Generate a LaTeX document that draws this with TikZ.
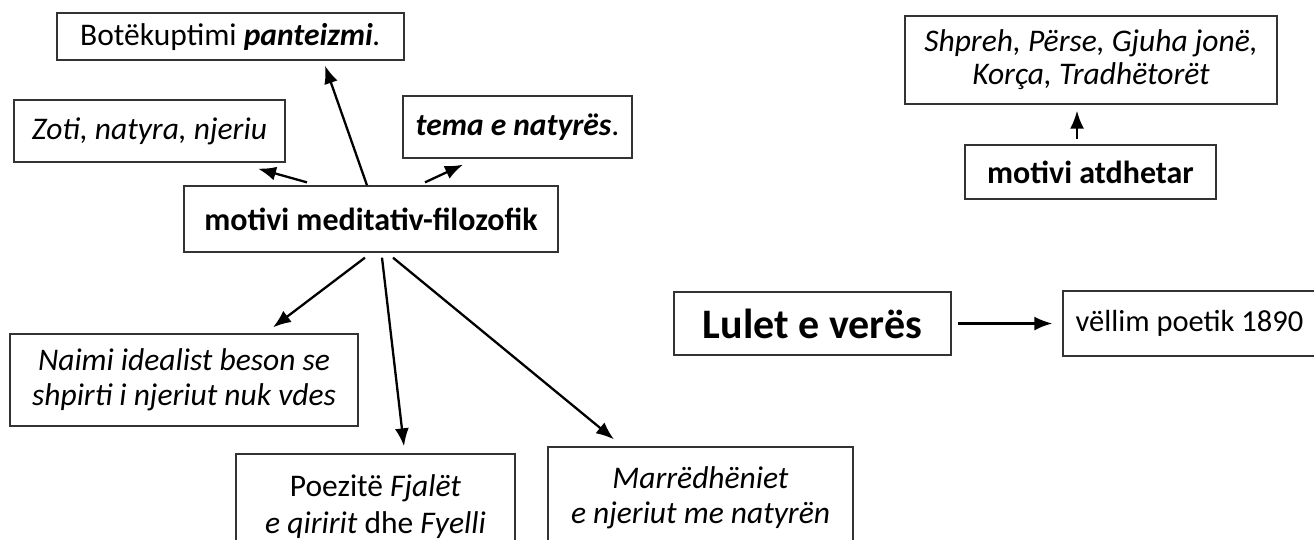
\documentclass[tikz,border=0pt]{standalone}
\usepackage{fontspec}
\setmainfont{Carlito}
\usetikzlibrary{arrows.meta}

\tikzset{
	box/.style={draw=black!80,line width=1.3pt,rectangle,inner sep=0pt,align=center,font=\fontsize{31.5}{35}\selectfont},
	link/.style={line width=2.3pt,-{Latex[length=18pt,width=14pt]}}
}

\begin{document}
\begin{tikzpicture}[x=1pt,y=-1pt]
	  \clip (0,0) rectangle (1314,539);
	  \fill[white] (0,0) rectangle (1314,539);

	  \node[box,minimum width=347pt,minimum height=47pt] (bote) at (230.5,36.5) {Botëkuptimi \textbf{\textit{panteizmi}}\textit{.}};
	  \node[box,minimum width=271pt,minimum height=62pt] (zoti) at (149.5,131) {\textit{Zoti, natyra, njeriu}};
	  \node[box,minimum width=229pt,minimum height=62pt] (tema) at (517.5,127) {\textbf{\textit{tema e natyrës}}.};
	  \node[box,minimum width=374pt,minimum height=66pt,font=\fontsize{32}{36}\selectfont\bfseries] (medit) at (371,219) {motivi meditativ-filozofik};
	  \node[box,minimum width=348pt,minimum height=92pt] (naimi) at (184,380) {\textit{Naimi idealist beson se}\\\textit{shpirti i njeriut nuk vdes}};
	  \node[box,minimum width=279pt,minimum height=105pt,font=\fontsize{31.5}{37}\selectfont] (poez) at (375.5,506.5) {Poezitë \textit{Fjalët}\\\textit{e qiririt} dhe \textit{Fyelli}};
	  \node[box,minimum width=305pt,minimum height=101pt] (marr) at (700.5,497.5) {\textit{Marrëdhëniet}\\\textit{e njeriut me natyrën}};

	  \node[box,minimum width=372pt,minimum height=88pt,font=\fontsize{31.5}{33}\selectfont] (shpreh) at (1091,60) {\textit{Shpreh, Përse, Gjuha jonë,}\\\textit{Korça, Tradhëtorët}};
	  \node[box,minimum width=251pt,minimum height=54pt,font=\fontsize{32}{36}\selectfont\bfseries] (atdh) at (1090.5,172) {motivi atdhetar};

	  \node[box,minimum width=277pt,minimum height=63pt,font=\fontsize{42}{48}\selectfont\bfseries] (lulet) at (812.5,323.5) {Lulet e verës};
	  \node[box,minimum width=253pt,minimum height=65pt,font=\fontsize{30.5}{35}\selectfont] (vellim) at (1189.5,323.5) {vëllim poetik 1890};

	  \draw[link] ([xshift=-4pt]medit.north) -- ([xshift=94.5pt,yshift=-5pt]bote.south);
	  \draw[link] ([xshift=-64pt,yshift=3pt]medit.north) -- ([xshift=108.5pt,yshift=-6pt]zoti.south);
	  \draw[link] ([xshift=54pt,yshift=3pt]medit.north) -- ([xshift=-54.5pt,yshift=-6pt]tema.south);
	  \draw[link] ([xshift=-6pt,yshift=-5pt]medit.south) -- ([xshift=89pt,yshift=6pt]naimi.north);
	  \draw[link] ([xshift=11pt,yshift=-5pt]medit.south) -- ([xshift=28.5pt,yshift=7pt]poez.north);
	  \draw[link] ([xshift=22pt,yshift=-5pt]medit.south) -- ([xshift=-86.5pt,yshift=7pt]marr.north);
	  \draw[link] ([xshift=-13.5pt,yshift=5pt]atdh.north) -- ([xshift=-14pt,yshift=-6pt]shpreh.south);
	  \draw[link] ([xshift=6pt]lulet.east) -- ([xshift=-10pt]vellim.west);
	\end{tikzpicture}
\end{document}
